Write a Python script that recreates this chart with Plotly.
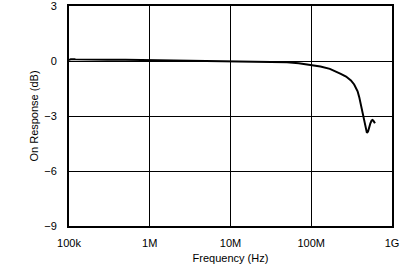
import plotly.graph_objects as go

freq_hz = [1.0e5, 1.05e5, 1.2e5, 1.5e5, 2e5, 3e5, 5e5, 7e5, 1e6, 1.5e6, 2e6, 3e6, 5e6,
           7e6, 1e7, 1.5e7, 2e7, 3e7, 4e7, 5e7, 7e7, 1e8, 1.3e8, 1.7e8, 2.0e8, 2.32e8,
           2.7e8, 3.1e8, 3.4e8, 3.57e8, 3.75e8, 3.93e8, 4.08e8, 4.21e8, 4.37e8, 4.53e8,
           4.7e8, 4.89e8, 5.05e8, 5.22e8, 5.4e8, 5.59e8, 5.75e8, 5.93e8, 6.15e8]
response_db = [0.05, 0.10, 0.09, 0.08, 0.08, 0.07, 0.07, 0.06, 0.05, 0.05, 0.05, 0.04, 0.03,
               0.02, 0.01, 0.0, -0.01, -0.03, -0.05, -0.07, -0.12, -0.21, -0.30, -0.43, -0.55, -0.70,
               -0.85, -1.06, -1.28, -1.43, -1.65, -1.97, -2.30, -2.70, -3.05, -3.40,
               -3.70, -3.92, -3.85, -3.60, -3.40, -3.25, -3.22, -3.28, -3.40]

x_tickvals = [1e5, 1e6, 1e7, 1e8, 1e9]
x_ticktext = ["100k", "1M", "10M", "100M", "1G"]
y_tickvals = [3, 0, -3, -6, -9]
y_ticktext = ["3", "0", "\u22123", "\u22126", "\u22129"]

fig = go.Figure()
fig.add_trace(go.Scatter(x=freq_hz, y=response_db, mode="lines",
                         line=dict(color="black", width=2), showlegend=False))

font = dict(family="Liberation Sans, Arial, sans-serif", size=11, color="black")
fig.update_layout(
    width=407, height=267,
    margin=dict(l=69, r=15, t=6, b=41, autoexpand=False),
    paper_bgcolor="white", plot_bgcolor="white",
    font=font,
    xaxis=dict(type="log", range=[5, 9], tickvals=x_tickvals, ticktext=x_ticktext,
               showgrid=True, gridcolor="black", gridwidth=1,
               showline=True, linecolor="black", linewidth=2, mirror=True,
               ticks="", ticklabelstandoff=6, automargin=False,
               ticklabeloverflow="allow",
               title=dict(text="Frequency (Hz)", standoff=6, font=font),
               zeroline=False),
    yaxis=dict(range=[-9, 3], tickvals=y_tickvals, ticktext=y_ticktext,
               showgrid=True, gridcolor="black", gridwidth=1,
               showline=True, linecolor="black", linewidth=2, mirror=True,
               ticks="", ticklabelstandoff=8, automargin=False,
               ticklabeloverflow="allow",
               title=dict(text="On Response (dB)", standoff=3, font=font),
               zeroline=False),
)
fig.write_html("out.html")
